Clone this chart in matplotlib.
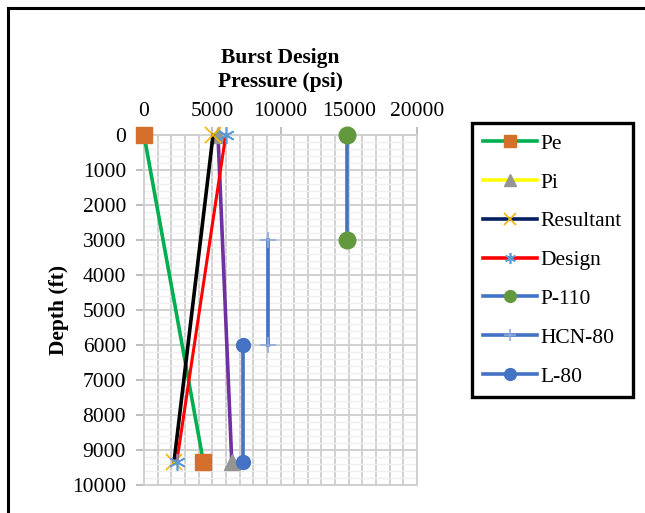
import matplotlib
matplotlib.use("Agg")
import matplotlib.pyplot as plt
from matplotlib.lines import Line2D
from matplotlib.ticker import MultipleLocator

plt.rcParams['font.family'] = ['Liberation Serif', 'DejaVu Serif']

# Data (pressure psi, depth ft)
depth_pts = [0, 9340]
pe_psi = [0, 4350]
pi_psi = [5420, 6430]
resultant_psi = [5060, 2200]
design_psi = [5990, 2400]

p110_psi = [14850, 14850]
p110_depth = [0, 3000]
hcn80_psi = [9060, 9060]
hcn80_depth = [3000, 6000]
l80_psi = [7230, 7230]
l80_depth = [6000, 9340]

labels = ["Pe", "Pi", "Resultant", "Design", "P-110", "HCN-80", "L-80"]
x_ticks = [0, 5000, 10000, 15000, 20000]
y_ticks = [0, 1000, 2000, 3000, 4000, 5000, 6000, 7000, 8000, 9000, 10000]

W, H = 645, 513
fig = plt.figure(figsize=(W / 100, H / 100), dpi=100)
ax = fig.add_axes([144 / W, 1 - 485 / H, (417 - 144) / W, (485 - 135) / H])

FS = 15.5
BLUE = '#4472C4'

ax.plot(pe_psi, depth_pts, color='#00B050', lw=2.6, marker='s', ms=12,
        mfc='#D5702C', mec='#D5702C', zorder=3, clip_on=False)
ax.plot(pi_psi, depth_pts, color='#7030A0', lw=2.6, marker='^', ms=11,
        mfc='#959595', mec='#959595', zorder=3, clip_on=False)
ax.plot(resultant_psi, depth_pts, color='black', lw=2.6, marker='x', ms=11,
        mec='#F2B705', mew=1.2, zorder=4, clip_on=False)
ax.plot(design_psi, depth_pts, color='#FF0000', lw=2.2, marker=(6, 2, 0), ms=12,
        mec='#5B9BD5', mew=1.2, zorder=4, clip_on=False)
ax.plot(p110_psi, p110_depth, color=BLUE, lw=2.6, marker='o', ms=12,
        mfc='#62993E', mec='#62993E', zorder=3, clip_on=False)
ax.plot(hcn80_psi, hcn80_depth, color=BLUE, lw=2.6, marker='+', ms=12,
        mec='#8FAADC', mew=1.2, zorder=3, clip_on=False)
ax.plot(l80_psi, l80_depth, color=BLUE, lw=2.6, marker='o', ms=10,
        mfc=BLUE, mec=BLUE, zorder=3, clip_on=False)

ax.set_xlim(0, 20000)
ax.set_ylim(10000, 0)
ax.xaxis.tick_top()
ax.xaxis.set_label_position('top')
ax.set_xticks(x_ticks)
ax.set_xticklabels([str(v) for v in x_ticks], fontsize=FS)
ax.set_yticks(y_ticks)
ax.set_yticklabels([str(v) for v in y_ticks], fontsize=FS)
ax.xaxis.set_minor_locator(MultipleLocator(1000))
ax.yaxis.set_minor_locator(MultipleLocator(200))

ax.grid(which='major', axis='both', color='#D0D0D0', lw=1.4)
ax.grid(which='minor', axis='x', color='#D0D0D0', lw=1.4)
ax.grid(which='minor', axis='y', color='#EFEFEF', lw=1.0)
ax.set_axisbelow(True)
ax.tick_params(which='major', axis='both', color='#BFBFBF', length=6, width=1.4)
ax.tick_params(which='major', axis='y', pad=7)
ax.tick_params(which='major', axis='x', pad=4)
ax.tick_params(which='minor', length=0)
for s in ax.spines.values():
    s.set_color('#D0D0D0')
    s.set_linewidth(1.4)

ax.set_xlabel("Burst Design\nPressure (psi)", fontsize=FS, fontweight='bold', labelpad=11,
              linespacing=1.25)
ax.set_ylabel("Depth (ft)", fontsize=FS, fontweight='bold', labelpad=2)

handles = [
    Line2D([], [], color='#00B050', lw=2.6, marker='s', ms=8.5, mfc='#D5702C', mec='#D5702C'),
    Line2D([], [], color='#FFFF00', lw=2.6, marker='^', ms=8.5, mfc='#959595', mec='#959595'),
    Line2D([], [], color='#002060', lw=2.6, marker='x', ms=8, mec='#F2B705', mew=1.2),
    Line2D([], [], color='#FF0000', lw=2.6, marker=(6, 2, 0), ms=8, mec='#5B9BD5', mew=1.2),
    Line2D([], [], color=BLUE, lw=2.6, marker='o', ms=8.5, mfc='#62993E', mec='#62993E'),
    Line2D([], [], color=BLUE, lw=2.6, marker='+', ms=9, mec='#8FAADC', mew=1.2),
    Line2D([], [], color=BLUE, lw=2.6, marker='o', ms=8.5, mfc=BLUE, mec=BLUE),
]
leg = fig.legend(handles, labels, loc='upper left', bbox_to_anchor=(472 / W, 1 - 123 / H),
                 fontsize=FS, frameon=True, fancybox=False, framealpha=1, handlelength=2.5,
                 handletextpad=0.2, labelspacing=0.87, borderpad=0.5, borderaxespad=0)
leg.get_frame().set_edgecolor('black')
leg.get_frame().set_linewidth(2.4)

# outer chart border (left and top)
fig.add_artist(Line2D([8 / W, 8 / W], [0, 1 - 8 / H], transform=fig.transFigure,
                      color='black', lw=2.2))
fig.add_artist(Line2D([8 / W, 1], [1 - 8 / H, 1 - 8 / H], transform=fig.transFigure,
                      color='black', lw=2.2))

fig.savefig('out.png', dpi=100)
